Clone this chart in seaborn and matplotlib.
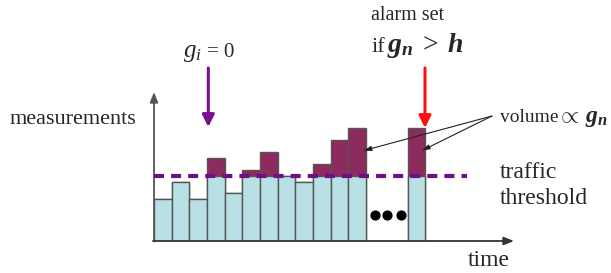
import numpy as np
import pandas as pd
import matplotlib
matplotlib.use("Agg")
import matplotlib.pyplot as plt
import seaborn as sns

# ---- data (measurement heights, same units as threshold) ----
time_slot = [0.5, 1.5, 2.5, 3.5, 4.5, 5.5, 6.5, 7.5, 8.5, 9.5, 10.5, 11.5, 14.86]
base = [41.7, 59.3, 41.7, 65, 47.7, 65, 65, 65, 59.3, 65, 65, 65, 65]
excess = [0, 0, 0, 18, 0, 6.3, 24, 0, 0, 12.3, 35.7, 47.7, 47.7]
threshold = 65
dots_time = [12.5, 13.2, 13.96]
dots_level = [26, 26, 26]

total = [b + e for b, e in zip(base, excess)]
df = pd.DataFrame({"time": time_slot, "base": base, "total": total})

sns.set_theme(style="white")
plt.rcParams["font.family"] = ["Liberation Serif", "DejaVu Serif"]
plt.rcParams["mathtext.fontset"] = "custom"
plt.rcParams["mathtext.rm"] = "Liberation Serif"
plt.rcParams["mathtext.it"] = "Liberation Serif:italic"
plt.rcParams["mathtext.bf"] = "Liberation Serif:bold:italic"

W, H = 611, 273
fig = plt.figure(figsize=(W / 100, H / 100), dpi=100)

def fx(x):
    return x / W

def fy(y):
    return 1 - y / H

# axes region in pixels: x 154..512, y 93..241
ax = fig.add_axes([fx(154), fy(241), (512 - 154) / W, (241 - 93) / H])
bw = 17.67  # px per time slot
xmax = (512 - 154) / bw

dark = "#8E2B5E"
light = "#B9E0E4"
edge = "#555555"

sns.barplot(data=df, x="time", y="total", native_scale=True, orient="x",
            width=1, color=dark, edgecolor=edge, linewidth=1.0,
            errorbar=None, saturation=1, ax=ax)
sns.barplot(data=df, x="time", y="base", native_scale=True, orient="x",
            width=1, color=light, edgecolor=edge, linewidth=1.0,
            errorbar=None, saturation=1, ax=ax)
ax.set_xlim(0, xmax)
ax.set_ylim(0, 148)

# threshold dashed line
ax.plot([0, (467 - 154) / bw], [threshold, threshold], color="#6E0F85",
        lw=3, dashes=(2.4, 1.7), clip_on=False, zorder=5)

# ellipsis dots
ax.scatter(dots_time, dots_level, s=40, color="black", zorder=6)

ax.axis("off")

# axis arrows
ax.annotate("", xy=(154 / W, fy(92)), xycoords="figure fraction",
            xytext=(154 / W, fy(241.5)), textcoords="figure fraction",
            arrowprops=dict(arrowstyle="-|>,head_length=0.5,head_width=0.2",
                            color="#555555", lw=1.3, shrinkA=0, shrinkB=0))
ax.annotate("", xy=(fx(514), fy(241)), xycoords="figure fraction",
            xytext=(fx(153), fy(241)), textcoords="figure fraction",
            arrowprops=dict(arrowstyle="-|>,head_length=0.5,head_width=0.2",
                            color="#333333", lw=1.3, shrinkA=0, shrinkB=0))

# purple and red arrows
ax.annotate("", xy=(fx(208.3), fy(127)), xycoords="figure fraction",
            xytext=(fx(208.3), fy(68)), textcoords="figure fraction",
            arrowprops=dict(arrowstyle="-|>,head_length=0.6,head_width=0.3",
                            color="#7A0F8F", lw=2.2, shrinkA=0, shrinkB=0))
ax.annotate("", xy=(fx(425), fy(128)), xycoords="figure fraction",
            xytext=(fx(425), fy(68)), textcoords="figure fraction",
            arrowprops=dict(arrowstyle="-|>,head_length=0.6,head_width=0.3",
                            color="#FF1010", lw=2.2, shrinkA=0, shrinkB=0))

# callout lines
for tx, ty in [(363.3, 150.7), (421.7, 150.7)]:
    ax.annotate("", xy=(fx(tx), fy(ty)), xycoords="figure fraction",
                xytext=(fx(492), fy(116)), textcoords="figure fraction",
                arrowprops=dict(arrowstyle="-|>,head_length=0.4,head_width=0.12",
                                color="#222222", lw=0.8, shrinkA=0, shrinkB=0))

# texts
fig.text(fx(10), fy(124), "measurements", fontsize=16, va="baseline", ha="left")

fig.text(fx(183), fy(57), r"$g_i$", fontsize=18, va="baseline", ha="left")
fig.text(fx(207), fy(57), "= 0", fontsize=15, va="baseline", ha="left")

fig.text(fx(371), fy(20), "alarm set", fontsize=14.5, va="baseline", ha="left")
fig.text(fx(372), fy(52), "if", fontsize=16, va="baseline", ha="left")
fig.text(fx(387), fy(52), r"$\mathbf{g_n}\;\mathrm{>}\;\mathbf{h}$", fontsize=20,
         va="baseline", ha="left")

fig.text(fx(500), fy(122), "volume", fontsize=14, va="baseline", ha="left")
fig.text(fx(557), fy(122), r"$\propto\,\mathbf{g_n}$", fontsize=17, va="baseline", ha="left")

fig.text(fx(500), fy(178), "traffic", fontsize=17, va="baseline", ha="left")
fig.text(fx(500), fy(204), "threshold", fontsize=17, va="baseline", ha="left")
fig.text(fx(468), fy(266), "time", fontsize=17, va="baseline", ha="left")

fig.savefig("out.png", dpi=100)
